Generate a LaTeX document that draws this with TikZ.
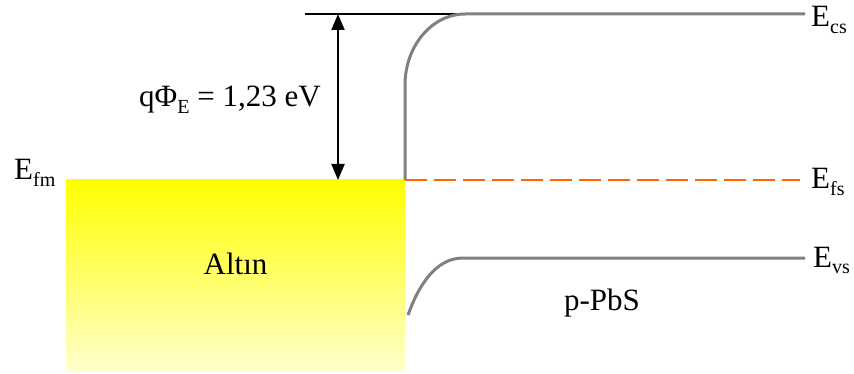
\documentclass[tikz,border=0pt]{standalone}
\usepackage{fontspec}
\setmainfont{Liberation Serif}
\newfontfamily\timesfont{Liberation Serif}
\usetikzlibrary{arrows.meta}
\definecolor{bandgray}{RGB}{128,128,128}
\definecolor{fermiorange}{RGB}{255,102,0}
\definecolor{goldtop}{RGB}{255,255,0}
\definecolor{goldbot}{RGB}{255,255,204}
\newcommand{\mysub}[1]{\raisebox{-0.22em}{\fontsize{20}{20}\selectfont #1}}
\tikzset{
  lbl/.style={inner sep=0pt, font=\timesfont\fontsize{31}{31}\selectfont},
  band/.style={draw=bandgray, line width=3pt},
  fermi/.style={draw=fermiorange, line width=2pt, dash pattern=on 22pt off 7pt},
  gap/.style={draw=black, line width=2pt, {Triangle[length=16pt,width=13pt]}-{Triangle[length=16pt,width=13pt]}}
}
\begin{document}
\begin{tikzpicture}[x=1pt,y=-1pt]
\useasboundingbox (0,0) rectangle (854,374);
% metal block
\shade[top color=goldtop, bottom color=goldbot] (66,180) rectangle (405,370);
\node[lbl, anchor=base] (altin) at (235.5,274) {Altın};
% coordinates
\coordinate (vacL) at (305,14);
\coordinate (cbend) at (465,14);
\coordinate (cend) at (805,14);
\coordinate (arTop) at (338,14);
\coordinate (arBot) at (338,180);
\coordinate (cbot) at (405,180);
\coordinate (cbstart) at (405,85);
\coordinate (fend) at (800,180);
\coordinate (vbstart) at (408,315);
\coordinate (vbend) at (463,258);
\coordinate (vend) at (805,258);
% lines
\draw[black, line width=2.2pt] (vacL) -- (cbend);
\draw[band] (cbot) -- (cbstart) .. controls (405,46) and (432,14) .. (cbend) -- (cend);
\draw[fermi] (cbot) -- (fend);
\draw[band] (vbstart) .. controls (418,287) and (435,258) .. (vbend) -- (vend);
\draw[gap] (arTop) -- (arBot);
% labels
\node[lbl, anchor=base] (phi) at (230,106.5) {qΦ\mysub{E} = 1,23 eV};
\node[lbl, anchor=base west] (efm) at (14,180) {E\mysub{fm}};
\node[lbl, anchor=base west] (ecs) at (811,27) {E\mysub{cs}};
\node[lbl, anchor=base west] (efs) at (811,189) {E\mysub{fs}};
\node[lbl, anchor=base west] (evs) at (813,267) {E\mysub{vs}};
\node[lbl, anchor=base] (pbs) at (602,310) {p-PbS};
\end{tikzpicture}
\end{document}
